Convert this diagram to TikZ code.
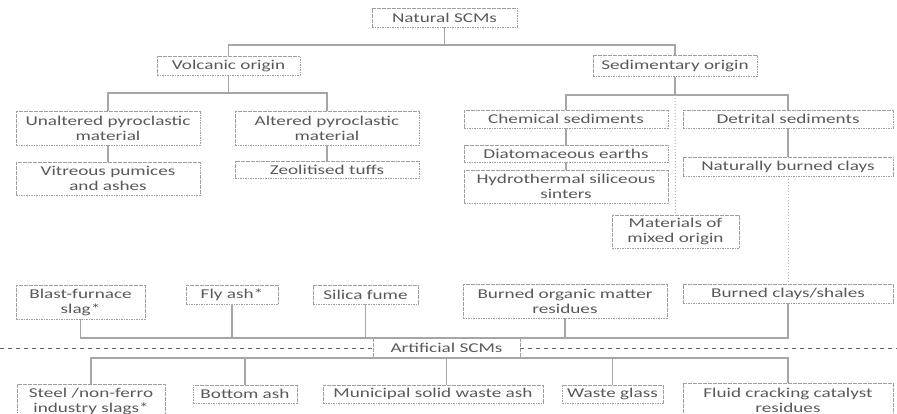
\documentclass[tikz,border=0pt]{standalone}
\usepackage{fontspec}
\setmainfont[FakeStretch=1.42]{Carlito}
\usetikzlibrary{arrows}
\tikzset{
	scmbox/.style={draw=gray!75, dash pattern=on 1.6pt off 0.9pt, line width=0.9pt, text=black!65, fill=white, inner sep=0pt, align=center, font=\fontsize{13.5}{15}\selectfont},
	link/.style={draw=gray!70, line width=1.2pt},
	mixlink/.style={draw=gray!60, line width=1pt, dotted},
	sepline/.style={draw=black!60, line width=1pt, dash pattern=on 4pt off 4pt}
}

\begin{document}
\begin{tikzpicture}[x=1pt, y=-1pt]
	\useasboundingbox (0,0) rectangle (897,414);

	%natural side
	\node[scmbox, minimum width=145, minimum height=19] (natural) at (444.5,17.5) {Natural SCMs};
	\node[scmbox, minimum width=143, minimum height=19] (volcanic) at (228.5,66) {Volcanic origin};
	\node[scmbox, minimum width=164, minimum height=21] (sedim) at (675,66) {Sedimentary origin};

	%volcanic branch
	\node[scmbox, minimum width=184, minimum height=34] (unaltered) at (108,128) {Unaltered pyroclastic\\material};
	\node[scmbox, minimum width=184, minimum height=34] (altered) at (327,128) {Altered pyroclastic\\material};
	\node[scmbox, minimum width=184, minimum height=33] (vitreous) at (108,178.5) {Vitreous pumices\\and ashes};
	\node[scmbox, minimum width=184, minimum height=17] (zeolite) at (327,170) {Zeolitised tuffs};

	%sedimentary branch
	\node[scmbox, minimum width=204, minimum height=18] (chemical) at (566,119) {Chemical sediments};
	\node[scmbox, minimum width=210, minimum height=18] (detrital) at (788,119) {Detrital sediments};
	\node[scmbox, minimum width=204, minimum height=17] (diatom) at (566,153.5) {Diatomaceous earths};
	\node[scmbox, minimum width=204, minimum height=33] (hydro) at (566,186.5) {Hydrothermal siliceous\\sinters};
	\node[scmbox, minimum width=210, minimum height=19] (natburn) at (788,166.5) {Naturally burned clays};
	\node[scmbox, minimum width=127, minimum height=33] (mixed) at (675.5,231.5) {Materials of\\mixed origin};

	%upper artificial row
	\node[scmbox, minimum width=129, minimum height=34] (blast) at (80.5,302) {Blast-furnace\\slag*};
	\node[scmbox, minimum width=92, minimum height=19] (flyash) at (232,294.5) {Fly ash*};
	\node[scmbox, minimum width=105, minimum height=19] (silica) at (365.5,294.5) {Silica fume};
	\node[scmbox, minimum width=204, minimum height=34] (organic) at (565,301) {Burned organic matter\\residues};
	\node[scmbox, minimum width=210, minimum height=19] (burnclay) at (788,293.5) {Burned clays/shales};

	\node[scmbox, minimum width=147, minimum height=19] (artificial) at (446.5,348) {Artificial SCMs};

	%lower artificial row
	\node[scmbox, minimum width=148, minimum height=34] (steel) at (91,401) {Steel /non-ferro\\industry slags*};
	\node[scmbox, minimum width=104, minimum height=18] (bottomash) at (245,394) {Bottom ash};
	\node[scmbox, minimum width=220, minimum height=18] (municipal) at (433,394) {Municipal solid waste ash};
	\node[scmbox, minimum width=101, minimum height=18] (wasteglass) at (612.5,394) {Waste glass};
	\node[scmbox, minimum width=210, minimum height=34] (fluid) at (788,400) {Fluid cracking catalyst\\residues};

	%bus points
	\coordinate (nbus) at (444.5,45);
	\coordinate (vbus) at (228.5,93);
	\coordinate (sbus) at (675,95);
	\coordinate (sepL) at (0,348);
	\coordinate (sepR) at (897,348);

	%natural connectors
	\draw[link] (natural) -- (nbus);
	\draw[link] (volcanic.north) |- (nbus) -| (sedim.north);
	\draw[link] (volcanic) -- (vbus);
	\draw[link] (unaltered.north) |- (vbus) -| (altered.north);
	\draw[link] (unaltered) -- (vitreous);
	\draw[link] (altered) -- (zeolite);
	\draw[link] (sedim) -- (sbus);
	\draw[link] (chemical.north) |- (sbus) -| (detrital.north);
	\draw[mixlink] (sbus) -- (mixed.north);
	\draw[link] (chemical) -- (diatom);
	\draw[link] (diatom) -- (hydro);
	\draw[link] (detrital) -- (natburn);
	\draw[mixlink] (natburn) -- (burnclay);

	%artificial connectors
	\draw[link] (blast.south) |- (artificial.north) -| (burnclay.south);
	\draw[link] (flyash) -- (flyash |- artificial.north);
	\draw[link] (silica) -- (silica |- artificial.north);
	\draw[link] (organic) -- (organic |- artificial.north);
	\draw[link] (steel.north) |- (artificial.south) -| (fluid.north);
	\draw[link] (bottomash) -- (bottomash |- artificial.south);
	\draw[link] (artificial.south) -- (artificial.south |- municipal.north);
	\draw[link] (wasteglass) -- (wasteglass |- artificial.south);

	%separator
	\draw[sepline] (sepL) -- (artificial);
	\draw[sepline] (artificial) -- (sepR);
\end{tikzpicture}
\end{document}
